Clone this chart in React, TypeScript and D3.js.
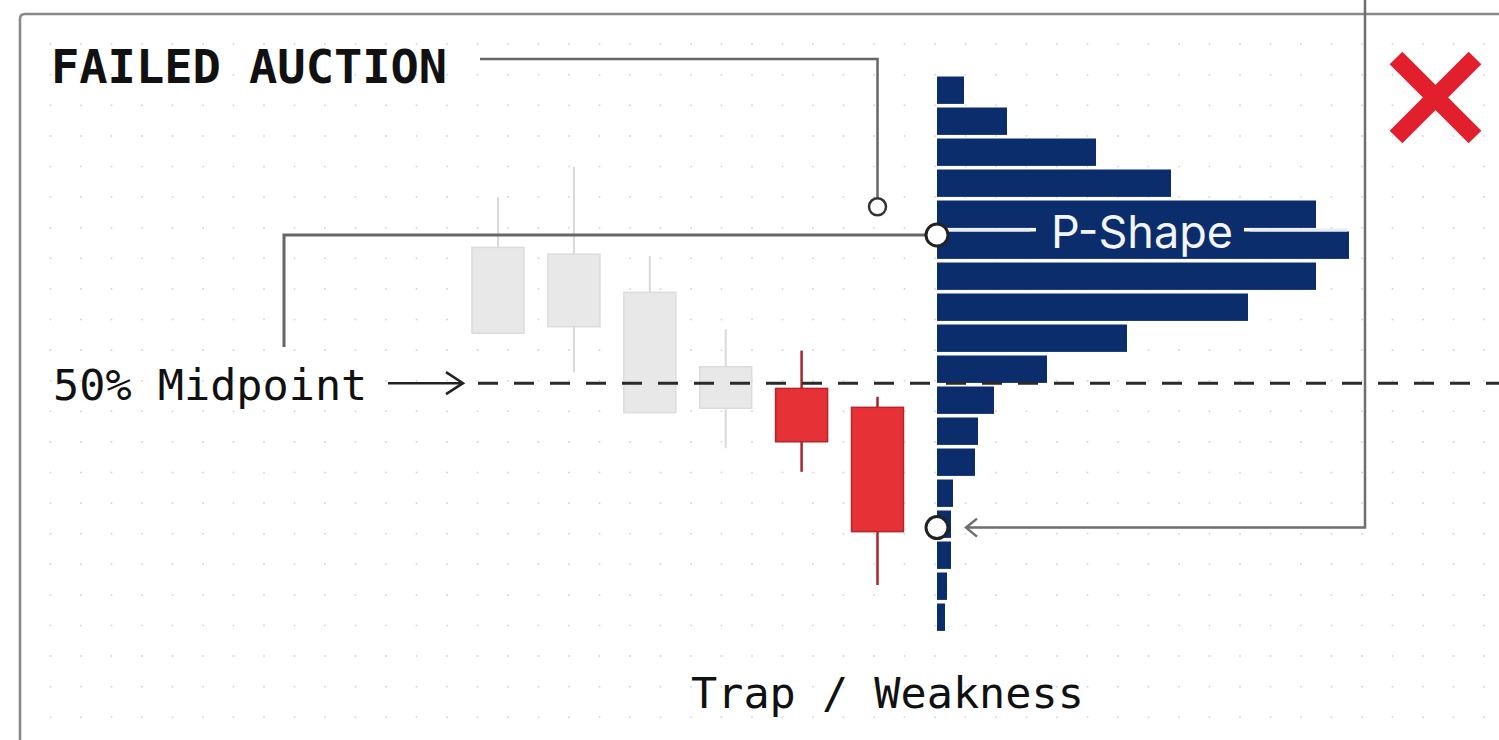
import React from "react";
import * as d3 from "d3";

// ---- Data ----
const candleLabels = ["C1", "C2", "C3", "C4", "C5", "C6"];
const candleOpen = [12.43, 12.21, 10.98, 8.58, 7.88, 7.27];
const candleClose = [9.66, 9.87, 7.1, 7.24, 6.16, 3.26];
const candleHigh = [14.05, 15.03, 12.15, 9.79, 9.1, 7.61];
const candleLow = [9.66, 8.39, 7.1, 5.95, 5.19, 1.54];
const candleFaded = [true, true, true, true, false, false];

// volume profile, from the top price level down
const profileLevels = [17, 16, 15, 14, 13, 12, 11, 10, 9, 8, 7, 6, 5, 4, 3, 2, 1, 0];
const profileVolumes = [27, 70, 159, 234, 379, 412, 379, 311, 190, 110, 57, 41, 38, 16, 14, 14, 10, 8];

const failedAuctionPrice = 13.74;
const pShapePrice = 12.83;
const midpointPrice = 8.05;
const trapPrice = 3.39;

const titleText = "FAILED AUCTION";
const midpointText = "50% Midpoint";
const shapeText = "P-Shape";
const bottomText = "Trap / Weakness";

const W = 1499;
const H = 740;

export default function App() {
  const y = d3.scaleLinear().domain([0, 18]).range([632.7, 74.7]);
  const x = d3.scalePoint<string>().domain(candleLabels).range([498, 877.5]);
  const xVol = d3.scaleLinear().domain([0, d3.max(profileVolumes) as number]).range([937, 1349]);
  const bandH = y(0) - y(1);
  const barH = bandH - 3.6;
  const bodyW = 52;

  const gx = d3.range(20 + 30.5, W, 30.5);
  const gy = d3.range(13.5 + 30.6, H, 30.6);

  const mono = "'DejaVu Sans Mono', monospace";
  const navy = "#0b2d6c";
  const yP = y(pShapePrice);
  const yM = y(midpointPrice);
  const yT = y(trapPrice);
  const yF = y(failedAuctionPrice);
  const xF = x("C6") as number;
  const x0 = xVol(0);

  const line = d3.line();

  return (
    <svg
      width={W}
      height={H}
      style={{ position: "absolute", left: 0, top: 0, background: "#fff" }}
    >
      <rect x={0} y={0} width={W} height={H} fill="#fff" />
      {/* dot grid */}
      <g fill="#d9d9d9">
        {gx.map((cx) =>
          gy.map((cy) => <circle key={cx + "-" + cy} cx={cx} cy={cy} r={1} />)
        )}
      </g>
      {/* frame */}
      <path d={`M20,${H + 5} L20,19 Q20,14 25,14 L${W + 5},14`} fill="none" stroke="#8a8a8a" strokeWidth={2.6} />

      {/* candles */}
      {candleLabels.map((c, i) => {
        const cx = x(c) as number;
        const top = Math.max(candleOpen[i], candleClose[i]);
        const bot = Math.min(candleOpen[i], candleClose[i]);
        const faded = candleFaded[i];
        return (
          <g key={c}>
            <line
              x1={cx}
              x2={cx}
              y1={y(candleHigh[i])}
              y2={y(candleLow[i])}
              stroke={faded ? "#d9d9d9" : "#a8262b"}
              strokeWidth={faded ? 2 : 2.5}
            />
            <rect
              x={cx - bodyW / 2}
              y={y(top)}
              width={bodyW}
              height={y(bot) - y(top)}
              fill={faded ? "#e8e8e8" : "#e63137"}
              stroke={faded ? "#dcdcdc" : "#b4262c"}
              strokeWidth={1.5}
            />
          </g>
        );
      })}

      {/* volume profile */}
      <g fill={navy}>
        {profileLevels.map((lv, i) => (
          <rect
            key={lv}
            x={x0}
            y={y(lv + 1) + 1.8}
            width={xVol(profileVolumes[i]) - x0}
            height={barH}
          />
        ))}
      </g>

      {/* P-shape label */}
      <rect x={1036} y={yP - 10} width={208} height={10} fill={navy} />
      <line x1={x0 + 12} x2={1030} y1={yP - 5} y2={yP - 5} stroke="#e6ecf6" strokeWidth={3} />
      <line x1={1250} x2={1347} y1={yP - 5} y2={yP - 5} stroke="#e6ecf6" strokeWidth={3} />
      <text
        x={1142}
        y={248}
        textAnchor="middle"
        fill="#f2f5fa"
        fontFamily="Inter, 'Open Sans', sans-serif"
        fontSize={45}
      >
        {shapeText}
      </text>

      {/* midpoint dashed line */}
      <line x1={478} x2={W} y1={yM} y2={yM} stroke="#2a2a2a" strokeWidth={3} strokeDasharray="20 16" />
      {/* midpoint arrow */}
      <path
        d={line([[388, yM], [462, yM]]) as string}
        stroke="#222"
        strokeWidth={2.5}
        fill="none"
      />
      <path
        d={line([[446, yM - 11], [463, yM], [446, yM + 11]]) as string}
        stroke="#222"
        strokeWidth={2.5}
        fill="none"
      />

      {/* P-shape connector to left */}
      <path
        d={line([[284, 347], [284, yP], [x0 - 12, yP]]) as string}
        stroke="#666"
        strokeWidth={3}
        fill="none"
      />

      {/* failed auction connector */}
      <path
        d={line([[480, 59], [xF, 59], [xF, yF - 9]]) as string}
        stroke="#666"
        strokeWidth={2.5}
        fill="none"
      />
      <circle cx={xF} cy={yF} r={8.5} fill="#fff" stroke="#333" strokeWidth={2.5} />

      {/* trap connector */}
      <path
        d={line([[1365, 0], [1365, yT], [967, yT]]) as string}
        stroke="#6e6e6e"
        strokeWidth={2.5}
        fill="none"
      />
      <path
        d={line([[977, yT - 9], [966, yT], [977, yT + 9]]) as string}
        stroke="#6e6e6e"
        strokeWidth={2.5}
        fill="none"
      />

      {/* anchor circles on profile */}
      <circle cx={x0} cy={yP} r={11} fill="#fff" stroke="#222" strokeWidth={3} />
      <circle cx={x0} cy={yT} r={11} fill="#fff" stroke="#222" strokeWidth={3} />

      {/* red X */}
      <g stroke="#e21f2d" strokeWidth={18} strokeLinecap="butt">
        <line x1={1396} y1={58} x2={1475} y2={137} />
        <line x1={1475} y1={58} x2={1396} y2={137} />
      </g>

      {/* texts */}
      <text x={51} y={83} fontFamily={mono} fontWeight="bold" fontSize={47} fill="#111">
        {titleText}
      </text>
      <text x={53} y={400} fontFamily={mono} fontSize={43.5} fill="#111">
        {midpointText}
      </text>
      <text x={691} y={708} fontFamily={mono} fontSize={43.5} fill="#111">
        {bottomText}
      </text>
    </svg>
  );
}
